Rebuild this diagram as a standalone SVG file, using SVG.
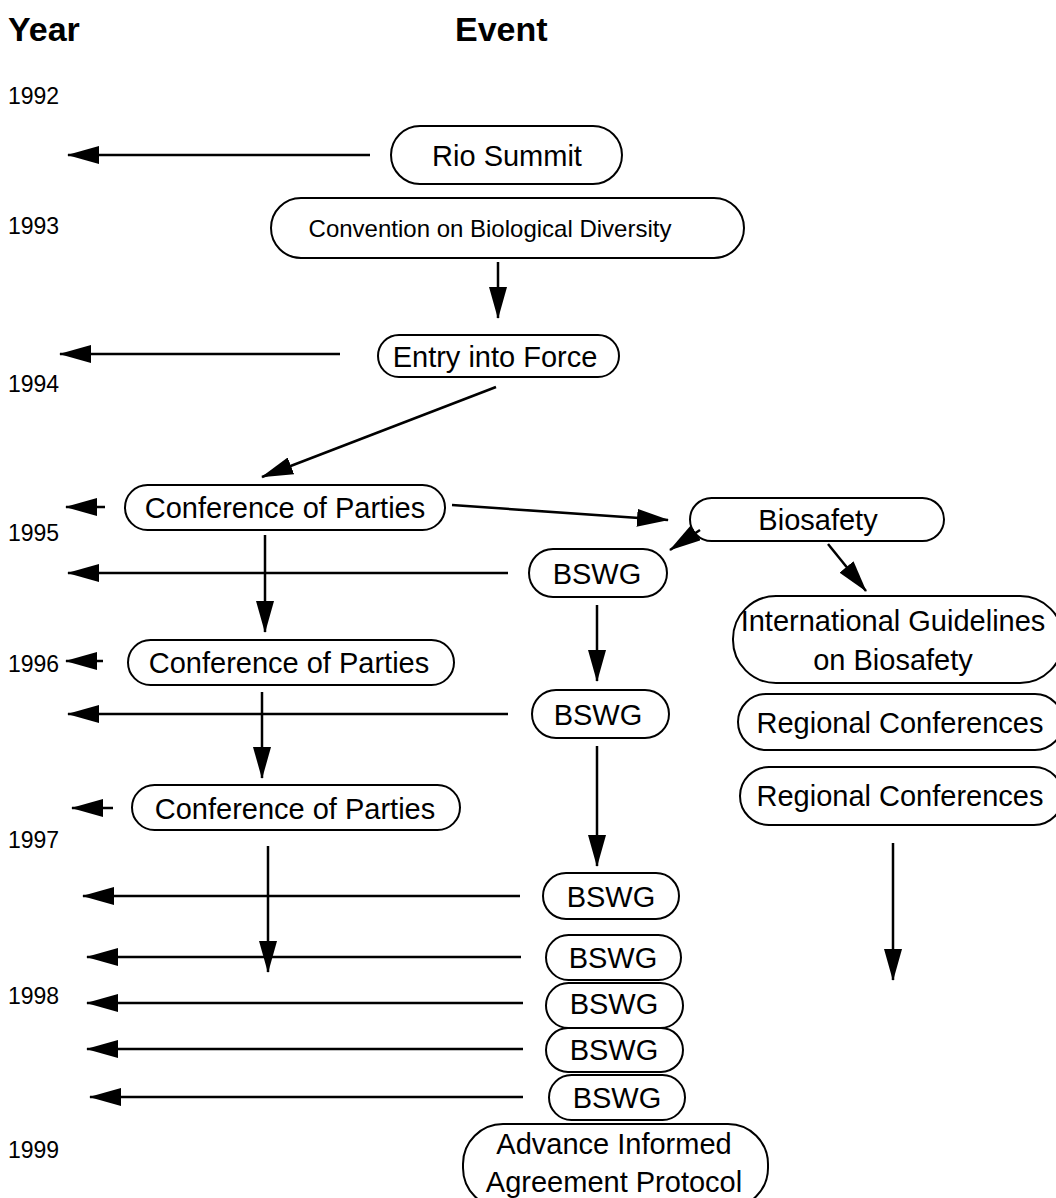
<svg xmlns="http://www.w3.org/2000/svg" width="1056" height="1198" viewBox="0 0 1056 1198">
<style>
.hdr{font-family:"Liberation Sans",Arial,sans-serif;font-weight:bold;font-size:34px;fill:#000}
.yr{font-family:"Liberation Sans",Arial,sans-serif;font-size:23px;fill:#000}
.nd rect{fill:#fff;stroke:#000;stroke-width:2}
.nd text{font-family:"Liberation Sans",Arial,sans-serif;font-size:29px;fill:#000;text-anchor:middle}
.cn line{stroke:#000;stroke-width:2.5;marker-end:url(#ah)}
</style>
<defs>
<marker id="ah" viewBox="0 0 32 18" refX="31" refY="9" markerWidth="32" markerHeight="18" orient="auto" markerUnits="userSpaceOnUse">
<path d="M0,0 L32,9 L0,18 z" fill="#000"/>
</marker>
</defs>
<rect width="1056" height="1198" fill="#fff"/>
<text class="hdr" x="8" y="41">Year</text>
<text class="hdr" x="455" y="41">Event</text>
<g id="years">
<text class="yr" x="8" y="104">1992</text>
<text class="yr" x="8" y="234">1993</text>
<text class="yr" x="8" y="392">1994</text>
<text class="yr" x="8" y="541">1995</text>
<text class="yr" x="8" y="672">1996</text>
<text class="yr" x="8" y="848">1997</text>
<text class="yr" x="8" y="1004">1998</text>
<text class="yr" x="8" y="1158">1999</text>
</g>
<g id="n-rio" class="nd"><rect x="391" y="126" width="231" height="58" rx="29"/><text x="507" y="165.5">Rio Summit</text></g>
<g id="n-cbd" class="nd"><rect x="271" y="198" width="473" height="60" rx="30"/><text x="490" y="236.5" style="font-size:24px">Convention on Biological Diversity</text></g>
<g id="n-entry" class="nd"><rect x="378" y="335" width="241" height="42" rx="21"/><text x="495" y="366.5">Entry into Force</text></g>
<g id="n-cop1" class="nd"><rect x="125" y="485" width="320" height="45" rx="22.5"/><text x="285" y="517.5">Conference of Parties</text></g>
<g id="n-bio" class="nd"><rect x="690" y="498" width="254" height="43" rx="21.5"/><text x="818" y="529.5">Biosafety</text></g>
<g id="n-bswg1" class="nd"><rect x="529" y="549" width="138" height="48" rx="24"/><text x="597" y="583.5">BSWG</text></g>
<g id="n-intl" class="nd"><rect x="733" y="596" width="330" height="87" rx="43"/><text x="893" y="631">International Guidelines</text><text x="893" y="670">on Biosafety</text></g>
<g id="n-cop2" class="nd"><rect x="128" y="640" width="326" height="45" rx="22.5"/><text x="289" y="672.5">Conference of Parties</text></g>
<g id="n-reg1" class="nd"><rect x="738" y="694" width="325" height="56" rx="28"/><text x="900" y="732.5">Regional Conferences</text></g>
<g id="n-bswg2" class="nd"><rect x="532" y="690" width="137" height="48" rx="24"/><text x="598" y="724.5">BSWG</text></g>
<g id="n-reg2" class="nd"><rect x="740" y="767" width="323" height="58" rx="29"/><text x="900" y="805.5">Regional Conferences</text></g>
<g id="n-cop3" class="nd"><rect x="132" y="785" width="328" height="45" rx="22.5"/><text x="295" y="818.5">Conference of Parties</text></g>
<g id="n-bswg3" class="nd"><rect x="543" y="873" width="136" height="46" rx="23"/><text x="611" y="906.5">BSWG</text></g>
<g id="n-bswg4" class="nd"><rect x="546" y="935" width="135" height="45" rx="22.5"/><text x="613" y="967.5">BSWG</text></g>
<g id="n-bswg5" class="nd"><rect x="546" y="983" width="137" height="45" rx="22.5"/><text x="614" y="1014">BSWG</text></g>
<g id="n-bswg6" class="nd"><rect x="546" y="1028" width="137" height="44" rx="22"/><text x="614" y="1060">BSWG</text></g>
<g id="n-bswg7" class="nd"><rect x="549" y="1075" width="136" height="45" rx="22.5"/><text x="617" y="1107.5">BSWG</text></g>
<g id="n-aia" class="nd"><rect x="463" y="1124" width="305" height="84" rx="40"/><text x="614" y="1153.5">Advance Informed</text><text x="614" y="1191.5">Agreement Protocol</text></g>
<g id="connectors" class="cn">
<line x1="370" y1="155" x2="68" y2="155"/>
<line x1="498" y1="262" x2="498" y2="318"/>
<line x1="340" y1="354" x2="60" y2="354"/>
<line x1="496" y1="387" x2="262" y2="477"/>
<line x1="105" y1="507" x2="66" y2="507"/>
<line x1="452" y1="505" x2="668" y2="520"/>
<line x1="700" y1="530" x2="670" y2="550"/>
<line x1="828" y1="544" x2="866" y2="591"/>
<line x1="508" y1="573" x2="68" y2="573"/>
<line x1="265" y1="535" x2="265" y2="632"/>
<line x1="597" y1="605" x2="597" y2="681"/>
<line x1="103" y1="661" x2="66" y2="661"/>
<line x1="508" y1="714" x2="68" y2="714"/>
<line x1="262" y1="692" x2="262" y2="778"/>
<line x1="597" y1="746" x2="597" y2="866"/>
<line x1="113" y1="808" x2="72" y2="808"/>
<line x1="520" y1="896" x2="83" y2="896"/>
<line x1="268" y1="846" x2="268" y2="972"/>
<line x1="521" y1="957" x2="87" y2="957"/>
<line x1="893" y1="843" x2="893" y2="980"/>
<line x1="523" y1="1003" x2="87" y2="1003"/>
<line x1="523" y1="1049" x2="87" y2="1049"/>
<line x1="523" y1="1097" x2="90" y2="1097"/>
</g>
</svg>
